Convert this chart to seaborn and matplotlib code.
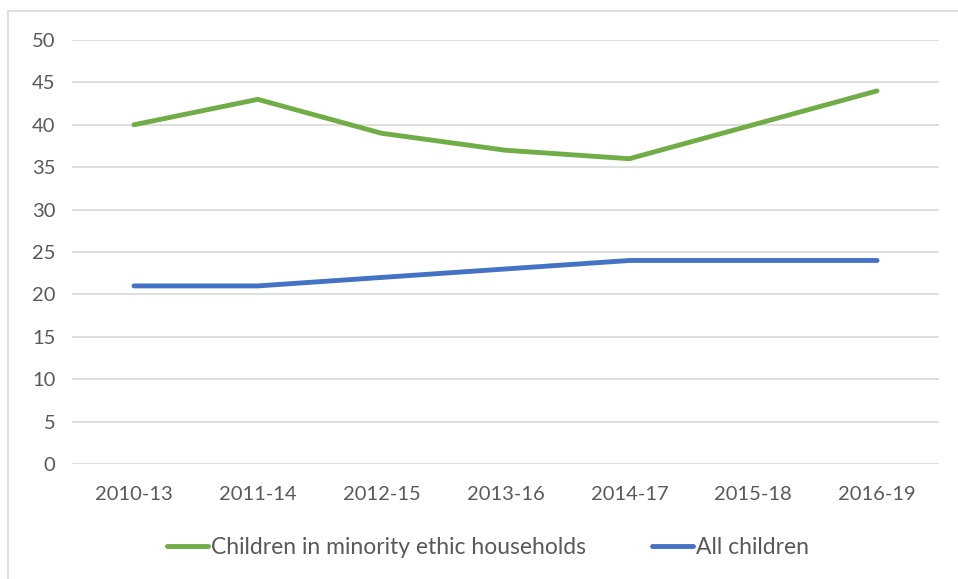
import matplotlib
matplotlib.use("Agg")
import matplotlib.pyplot as plt
import seaborn as sns
import pandas as pd
from matplotlib.lines import Line2D

periods = ["2010-13", "2011-14", "2012-15", "2013-16", "2014-17", "2015-18", "2016-19"]
minority = [40, 43, 39, 37, 36, 40, 44]
all_children = [21, 21, 22, 23, 24, 24, 24]
series_names = ["Children in minority ethic households", "All children"]
colors = ["#70AD47", "#4472C4"]

df = pd.DataFrame({
    "period": periods * 2,
    "value": minority + all_children,
    "series": [series_names[0]] * len(periods) + [series_names[1]] * len(periods),
})

sns.set_theme(style="white")
plt.rcParams["font.family"] = ["Lato", "DejaVu Sans"]

fig = plt.figure(figsize=(9.58, 5.79), dpi=100)
ax = fig.add_axes([72 / 958, 1 - 464 / 579, (939 - 72) / 958, (464 - 40) / 579])

sns.lineplot(data=df, x="period", y="value", hue="series", palette=colors,
             linewidth=3.5, sort=False, ax=ax, legend=False)
for ln in ax.lines:
    ln.set_solid_capstyle("round")
    ln.set_solid_joinstyle("miter")

ax.set_xlim(-0.5, len(periods) - 0.5)
ax.set_ylim(0, 50)
ax.set_yticks(range(0, 51, 5))
ax.yaxis.grid(True, color="#D9D9D9", linewidth=1.2)
ax.set_axisbelow(True)
for s in ax.spines.values():
    s.set_visible(False)
ax.set_xlabel("")
ax.set_ylabel("")
ax.tick_params(axis="both", length=0, labelsize=14.5, colors="#595959")
ax.tick_params(axis="y", pad=12)
ax.tick_params(axis="x", pad=16)

# chart area border (left and top edges visible)
fig.add_artist(Line2D([8 / 958, 8 / 958], [0, 1 - 11 / 579], transform=fig.transFigure,
                      color="#D9D9D9", linewidth=1.2))
fig.add_artist(Line2D([8 / 958, 1], [1 - 11 / 579, 1 - 11 / 579], transform=fig.transFigure,
                      color="#D9D9D9", linewidth=1.2))

handles = [Line2D([0], [0], color=c, linewidth=3.5, solid_capstyle="round") for c in colors]
fig.legend(handles, series_names, loc="center", bbox_to_anchor=(488 / 958, 1 - 548 / 579),
           ncol=2, frameon=False, fontsize=16.5, labelcolor="#595959",
           handlelength=1.8, handletextpad=0.1, columnspacing=2.9)

fig.savefig("out.png", dpi=100)
